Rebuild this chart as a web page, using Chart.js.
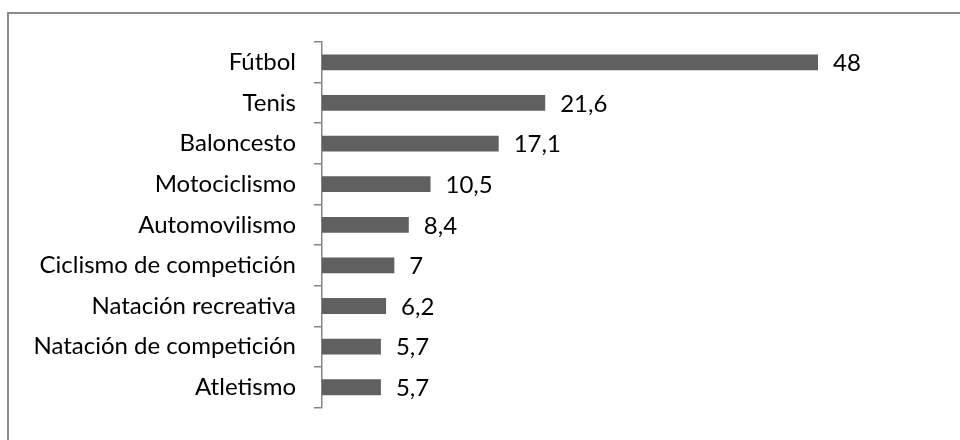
<!DOCTYPE html>
<html>
<head>
<meta charset="utf-8">
<script src="https://cdn.jsdelivr.net/npm/chart.js@4/dist/chart.umd.min.js"></script>
<style>
  html, body { margin: 0; padding: 0; background: #ffffff; }
  #wrap { position: relative; width: 960px; height: 440px; overflow: hidden; }
  #frame { position: absolute; left: 7px; top: 12px; width: 1000px; height: 500px;
           border: 2px solid #8c8c8c; box-sizing: border-box; }
  canvas { position: absolute; left: 0; top: 0; }
</style>
</head>
<body>
<div id="wrap">
  <div id="frame"></div>
  <canvas id="chart" width="960" height="440"></canvas>
</div>
<script>
// Deportes y su porcentaje
const categories = [
  'Fútbol', 'Tenis', 'Baloncesto', 'Motociclismo', 'Automovilismo',
  'Ciclismo de competición', 'Natación recreativa', 'Natación de competición', 'Atletismo'
];
const values = [48, 21.6, 17.1, 10.5, 8.4, 7, 6.2, 5.7, 5.7];
const valueLabels = ['48', '21,6', '17,1', '10,5', '8,4', '7', '6,2', '5,7', '5,7'];

const FONT = 'Lato, "Noto Sans", sans-serif';
const FONT_SIZE = 24;

// Value labels placed just past the end of each bar
const barValueLabels = {
  id: 'barValueLabels',
  afterDatasetsDraw(chart) {
    const ctx = chart.ctx;
    const meta = chart.getDatasetMeta(0);
    ctx.save();
    ctx.font = FONT_SIZE + 'px ' + FONT;
    ctx.fillStyle = '#000000';
    ctx.textAlign = 'left';
    ctx.textBaseline = 'middle';
    meta.data.forEach((bar, i) => {
      ctx.fillText(valueLabels[i], bar.x + 15, bar.y + 1);
    });
    ctx.restore();
  }
};

new Chart(document.getElementById('chart'), {
  type: 'bar',
  data: {
    labels: categories,
    datasets: [{
      data: values,
      backgroundColor: '#606060',
      borderWidth: 0,
      barPercentage: 0.39,
      categoryPercentage: 1.0
    }]
  },
  options: {
    indexAxis: 'y',
    responsive: false,
    animation: false,
    layout: { padding: { top: 42, bottom: 23, left: 0, right: 18 } },
    plugins: { legend: { display: false }, tooltip: { enabled: false } },
    scales: {
      x: { display: false, min: 0, max: 60 },
      y: {
        position: 'left',
        afterFit(scale) { scale.width = 322; },
        grid: {
          offset: true,
          drawOnChartArea: false,
          drawTicks: true,
          tickLength: 8,
          color: '#868686',
          lineWidth: 1.5
        },
        border: { display: true, color: '#868686', width: 1.5 },
        ticks: {
          color: '#000000',
          padding: 18,
          font: { family: FONT, size: FONT_SIZE }
        }
      }
    }
  },
  plugins: [barValueLabels]
});
</script>
</body>
</html>
